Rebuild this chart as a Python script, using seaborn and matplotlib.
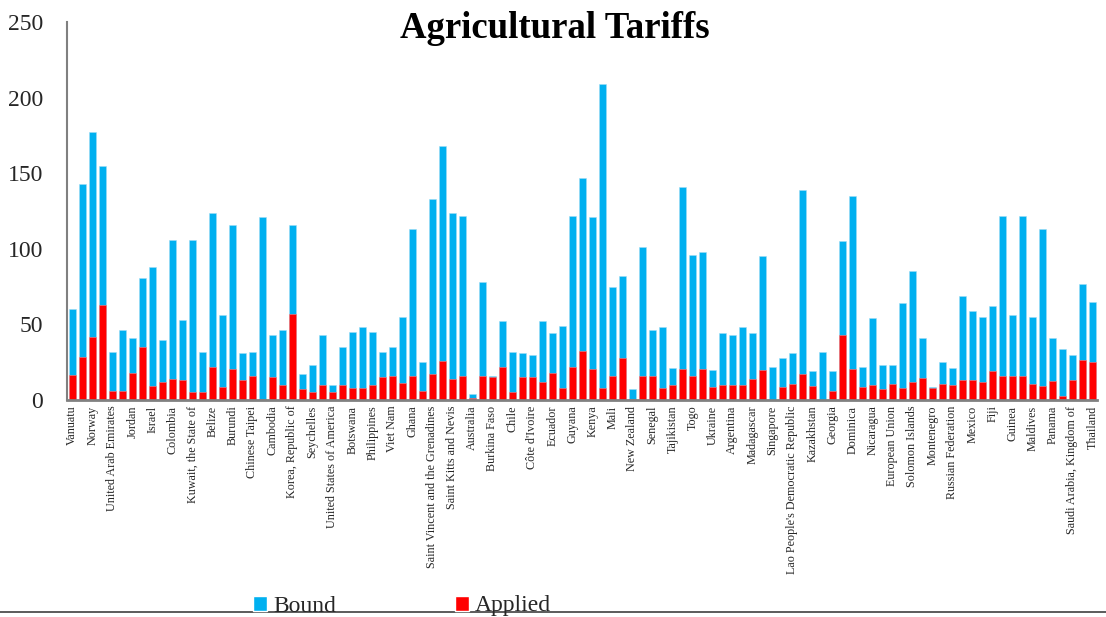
import matplotlib
matplotlib.use("Agg")
import matplotlib.pyplot as plt
from matplotlib.patches import Patch
from matplotlib.lines import Line2D
import numpy as np
import seaborn as sns

# Every other country is labelled on the axis
tick_labels = [
    "Vanuatu", "Norway", "United Arab Emirates", "Jordan", "Israel", "Colombia",
    "Kuwait, the State of", "Belize", "Burundi", "Chinese Taipei", "Cambodia",
    "Korea, Republic of", "Seychelles", "United States of America", "Botswana",
    "Philippines", "Viet Nam", "Ghana", "Saint Vincent and the Grenadines",
    "Saint Kitts and Nevis", "Australia", "Burkina Faso", "Chile", "Côte d'Ivoire",
    "Ecuador", "Guyana", "Kenya", "Mali", "New Zealand", "Senegal", "Tajikistan",
    "Togo", "Ukraine", "Argentina", "Madagascar", "Singapore",
    "Lao People's Democratic Republic", "Kazakhstan", "Georgia", "Dominica",
    "Nicaragua", "European Union", "Solomon Islands", "Montenegro",
    "Russian Federation", "Mexico", "Fiji", "Guinea", "Maldives", "Panama",
    "Saudi Arabia, Kingdom of", "Thailand",
]

# Bound agricultural tariff (%)
bound = [
    60, 143, 177, 155, 32, 46, 41, 81, 88, 40,
    106, 53, 106, 32, 124, 56, 116, 31, 32, 121,
    43, 46, 116, 17, 23, 43, 10, 35, 45, 48,
    45, 32, 35, 55, 113, 25, 133, 168, 124, 122,
    4, 78, 16, 52, 32, 31, 30, 52, 44, 49,
    122, 147, 121, 209, 75, 82, 7, 101, 46, 48,
    21, 141, 96, 98, 20, 44, 43, 48, 44, 95,
    22, 28, 31, 139, 19, 32, 19, 105, 135, 22,
    54, 23, 23, 64, 85, 41, 8.5, 25, 21, 69,
    59, 55, 62, 122, 56, 122, 55, 113, 41, 34,
    30, 77, 65,
]

# Applied agricultural tariff (%)
applied = [
    16.4, 28.7, 42, 63, 6.2, 6.2, 17.8, 35, 9, 11.6,
    14, 13, 5.6, 5.6, 21.8, 8.4, 20.2, 13, 15.6, 0.7,
    15, 9.8, 57, 7.3, 5.6, 9.8, 5, 10.2, 8.2, 8.2,
    9.6, 15.3, 16.2, 11.3, 15.6, 6, 17.3, 26, 13.8, 16.2,
    1, 15.6, 15.4, 21.6, 5.6, 15.3, 15.3, 12.2, 18, 8.2,
    21.6, 32.7, 20.2, 8.2, 15.6, 27.6, 0.7, 15.6, 15.6, 8.2,
    10.2, 20.2, 15.6, 20.2, 8.9, 9.6, 10.2, 10.2, 14, 19.6,
    0, 8.9, 10.9, 16.9, 9.3, 0, 6, 42.9, 20.7, 8.7,
    10.2, 7.6, 10.4, 7.8, 12.2, 14.4, 8.2, 10.9, 9.8, 12.9,
    13.3, 11.6, 19.3, 15.6, 15.6, 15.6, 10.4, 9.3, 12.7, 2.7,
    13.3, 26.7, 24.9,
]

BLUE = "#00B0F0"
RED = "#FF0000"

sns.set_style("white")
plt.rcParams["font.family"] = ["Liberation Serif", "DejaVu Serif"]

fig = plt.figure(figsize=(11.06, 6.17), dpi=100)
ax = fig.add_axes([0.0609, 0.3517, 0.9313, 0.6126])

idx = np.arange(len(bound))
sns.barplot(x=idx, y=bound, color=BLUE, saturation=1, width=0.65,
            edgecolor="#9fdcf5", linewidth=0.4, ax=ax)
sns.barplot(x=idx, y=applied, color=RED, saturation=1, width=0.65,
            edgecolor="#ff8080", linewidth=0.4, ax=ax)

ax.set_xlim(-0.5, len(bound) - 0.5)
ax.set_ylim(0, 250)
ax.set_yticks(range(0, 251, 50))
ax.tick_params(axis="y", length=0, pad=17.5, labelsize=17)
ax.set_xticks(idx[::2])
ax.set_xticklabels(tick_labels, rotation=90, fontsize=8.7)
ax.tick_params(axis="x", length=0, pad=4)
ax.set_xlabel("")
ax.set_ylabel("")

for side in ("top", "right"):
    ax.spines[side].set_visible(False)
ax.spines["left"].set_color("#808080")
ax.spines["left"].set_linewidth(1.5)
ax.spines["bottom"].set_color("#808080")
ax.spines["bottom"].set_linewidth(2)

fig.text(555 / 1106, 1 - 28 / 617, "Agricultural Tariffs", ha="center",
         va="center", fontsize=26.5, fontweight="bold", color="black")

handles = [Patch(facecolor=BLUE), Patch(facecolor=RED)]
fig.legend(handles, ["Bound", "Applied"], loc="center left",
           bbox_to_anchor=(253 / 1106, 1 - 606 / 617), ncol=2, frameon=False,
           fontsize=17, handlelength=0.6, handleheight=0.6, handletextpad=0.25,
           columnspacing=5.05, borderpad=0, borderaxespad=0)

fig.add_artist(Line2D([0, 1], [1 - 612 / 617] * 2, color="#404040", lw=1.2,
                      transform=fig.transFigure))

fig.savefig("out.png", dpi=100)
